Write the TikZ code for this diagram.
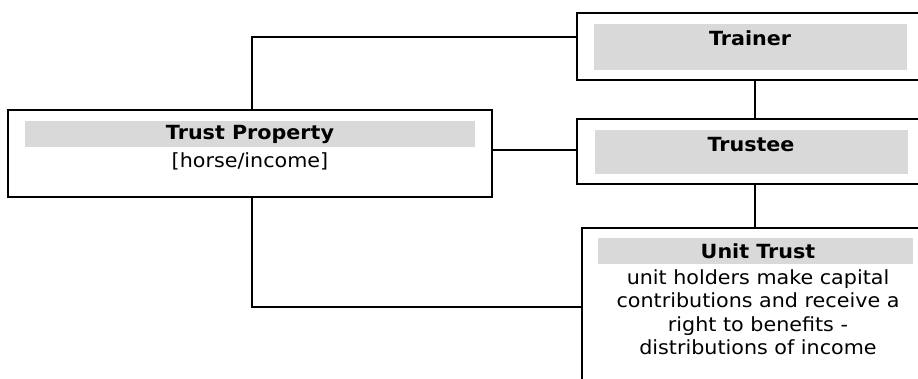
\documentclass[tikz,border=0pt]{standalone}
\usepackage{fontspec}
\setmainfont{DejaVu Sans}[FakeStretch=1.06]
\definecolor{band}{HTML}{D9D9D9}
\begin{document}
\begin{tikzpicture}[x=1pt,y=-1pt,
  box/.style={draw=black,line width=2.2pt,fill=white,rectangle,inner sep=0pt},
  conn/.style={draw=black,line width=2.2pt},
  bandfill/.style={fill=band,draw=none},
  title/.style={font=\fontsize{19.5}{23.5}\selectfont\bfseries,inner sep=0pt,anchor=center},
  body/.style={font=\fontsize{19.5}{23.5}\selectfont,inner sep=0pt,align=center,anchor=center}]
\useasboundingbox (0,0) rectangle (918,378);
% boxes
\node[box,minimum width=484pt,minimum height=87pt] (tp) at (250,153.5) {};
\node[box,minimum width=353pt,minimum height=67pt] (trainer) at (753.5,46.5) {};
\node[box,minimum width=353pt,minimum height=65pt] (trustee) at (753.5,151.5) {};
\node[box,minimum width=348pt,minimum height=162pt] (unit) at (756,309) {};
% bands
\fill[bandfill] (25,121) rectangle (475,147);
\fill[bandfill] (594,24) rectangle (907,70);
\fill[bandfill] (595,130) rectangle (908,174);
\fill[bandfill] (598,238) rectangle (913,264);
% texts
\node[title] (tpt) at (250,134) {Trust Property};
\node[body] (tps) at (250,161) {[horse/income]};
\node[title] (trt) at (750,38) {Trainer};
\node[title] (tst) at (751,145) {Trustee};
\node[title] (utt) at (758,251) {Unit Trust};
\node[body,anchor=north] (uts) at (758,269) {unit holders make capital\\contributions and receive a\\right to benefits -\\distributions of income};
% connectors
\coordinate (ctop) at (252,37);
\coordinate (cmid) at (0,150);
\coordinate (cbot) at (252,307);
\coordinate (cv) at (755,0);
\draw[conn] (tp.north -| ctop) -- (ctop) -- (trainer.west |- ctop);
\draw[conn] (tp.east |- cmid) -- (trustee.west |- cmid);
\draw[conn] (tp.south -| cbot) -- (cbot) -- (unit.west |- cbot);
\draw[conn] (trainer.south -| cv) -- (trustee.north -| cv);
\draw[conn] (trustee.south -| cv) -- (unit.north -| cv);
\end{tikzpicture}
\end{document}
